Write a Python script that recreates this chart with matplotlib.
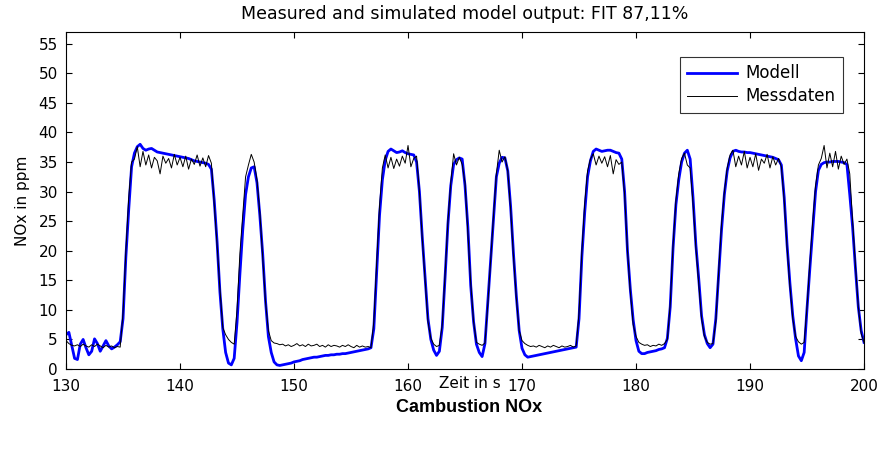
import numpy as np
import matplotlib
matplotlib.use("Agg")
import matplotlib.pyplot as plt

plt.rcParams['font.family'] = ['DejaVu Sans']

# Zeitachse: 130 s bis 200 s, Abtastung 0,25 s
t_start = 130.0
t_step = 0.25

# Modell (simulierter Ausgang), 4 Werte pro Sekunde
modell = [
    5.8, 6.2, 4.0, 1.8,      # 130
    1.6, 4.2, 5.0, 3.6,      # 131
    2.4, 3.0, 5.1, 4.3,      # 132
    3.0, 3.9, 4.8, 3.9,      # 133
    3.4, 3.7, 4.1, 4.6,      # 134
    8.5, 19.0, 27.0, 34.2,   # 135
    36.5, 37.6, 38.0, 37.3,  # 136
    37.0, 37.2, 37.3, 37.0,  # 137
    36.7, 36.6, 36.5, 36.4,  # 138
    36.3, 36.2, 36.1, 36.0,  # 139
    35.9, 35.8, 35.7, 35.6,  # 140
    35.4, 35.2, 35.1, 35.0,  # 141
    34.9, 34.8, 34.6, 33.8,  # 142
    28.5, 21.5, 13.0, 6.8,   # 143
    2.8, 1.0, 0.7, 1.8,      # 144
    7.9, 16.0, 23.5, 29.5,   # 145
    32.5, 34.0, 34.2, 31.5,  # 146
    26.0, 19.5, 11.5, 5.5,   # 147
    2.8, 1.2, 0.7, 0.6,      # 148
    0.7, 0.8, 0.9, 1.0,      # 149
    1.2, 1.3, 1.4, 1.6,      # 150
    1.7, 1.8, 1.9, 2.0,      # 151
    2.0, 2.1, 2.2, 2.3,      # 152
    2.3, 2.4, 2.4, 2.5,      # 153
    2.5, 2.6, 2.6, 2.7,      # 154
    2.8, 2.9, 3.0, 3.1,      # 155
    3.2, 3.3, 3.4, 3.6,      # 156
    6.8, 16.5, 26.0, 32.0,   # 157
    35.3, 36.8, 37.2, 36.9,  # 158
    36.6, 36.7, 36.9, 36.6,  # 159
    36.4, 36.3, 36.2, 35.0,  # 160
    30.0, 22.3, 15.3, 8.5,   # 161
    5.0, 3.2, 2.3, 3.0,      # 162
    7.0, 15.5, 24.5, 31.0,   # 163
    34.6, 35.4, 35.7, 35.5,  # 164
    31.0, 24.0, 14.1, 8.0,   # 165
    4.2, 2.8, 2.1, 4.3,      # 166
    11.3, 18.5, 25.5, 32.5,  # 167
    34.8, 35.8, 35.7, 33.5,  # 168
    27.5, 19.5, 12.4, 6.5,   # 169
    3.5, 2.4, 2.0, 2.1,      # 170
    2.2, 2.3, 2.4, 2.5,      # 171
    2.6, 2.7, 2.8, 2.9,      # 172
    3.0, 3.1, 3.2, 3.3,      # 173
    3.4, 3.5, 3.6, 3.7,      # 174
    8.5, 19.0, 26.5, 32.5,   # 175
    35.2, 36.8, 37.2, 37.0,  # 176
    36.8, 36.9, 37.0, 37.0,  # 177
    36.8, 36.6, 36.5, 35.5,  # 178
    30.0, 20.0, 13.5, 8.3,   # 179
    4.8, 3.0, 2.6, 2.6,      # 180
    2.8, 2.9, 3.0, 3.1,      # 181
    3.3, 3.4, 3.6, 5.2,      # 182
    10.5, 20.5, 27.8, 32.0,  # 183
    35.0, 36.5, 37.0, 35.5,  # 184
    29.0, 21.0, 15.3, 9.0,   # 185
    5.8, 4.3, 3.6, 4.2,      # 186
    8.5, 16.0, 23.5, 29.5,   # 187
    33.5, 35.7, 36.8, 37.0,  # 188
    36.8, 36.7, 36.7, 36.6,  # 189
    36.6, 36.5, 36.4, 36.3,  # 190
    36.2, 36.1, 36.0, 35.9,  # 191
    35.8, 35.6, 35.4, 34.5,  # 192
    29.0, 21.0, 14.5, 9.0,   # 193
    5.1, 2.2, 1.4, 2.8,      # 194
    10.2, 17.0, 23.5, 30.0,  # 195
    33.6, 34.6, 34.9, 35.0,  # 196
    35.0, 35.1, 35.1, 35.1,  # 197
    35.0, 34.9, 34.6, 29.5,  # 198
    24.0, 17.0, 10.5, 6.5,   # 199
    4.5,                     # 200
]

# Messdaten, gleiche Abtastung
messdaten = [
    4.8, 4.3, 4.0, 3.9,      # 130
    4.1, 3.8, 4.2, 3.9,      # 131
    3.7, 4.1, 3.8, 4.2,      # 132
    3.9, 3.6, 4.0, 3.7,      # 133
    3.9, 3.6, 3.8, 3.7,      # 134
    9.5, 20.0, 29.0, 35.0,   # 135
    35.5, 37.6, 34.2, 36.8,  # 136
    34.5, 36.2, 34.0, 35.8,  # 137
    35.2, 33.0, 36.0, 34.8,  # 138
    35.6, 34.0, 36.3, 34.5,  # 139
    35.8, 34.2, 36.0, 33.8,  # 140
    35.5, 34.6, 36.2, 34.3,  # 141
    35.7, 34.2, 36.1, 34.8,  # 142
    28.0, 21.0, 13.5, 7.0,   # 143
    5.8, 5.0, 4.5, 4.2,      # 144
    10.0, 19.5, 26.0, 32.5,  # 145
    34.5, 36.3, 35.0, 32.0,  # 146
    26.5, 19.0, 11.3, 6.5,   # 147
    4.8, 4.4, 4.3, 4.1,      # 148
    4.2, 3.9, 4.1, 3.8,      # 149
    4.0, 4.3, 3.9, 4.1,      # 150
    3.8, 4.2, 3.9, 4.0,      # 151
    4.2, 3.8, 4.0, 3.7,      # 152
    4.1, 3.8, 4.0, 3.9,      # 153
    3.7, 4.0, 3.8, 4.1,      # 154
    3.8, 3.6, 4.0, 3.7,      # 155
    3.9, 3.7, 3.8, 3.6,      # 156
    8.0, 18.0, 27.5, 34.0,   # 157
    36.2, 34.0, 35.8, 33.9,  # 158
    35.5, 34.3, 36.0, 34.8,  # 159
    37.8, 34.2, 35.6, 36.0,  # 160
    30.0, 22.0, 15.0, 8.0,   # 161
    5.2, 4.2, 3.8, 4.0,      # 162
    7.5, 16.0, 25.0, 31.5,   # 163
    36.4, 34.5, 35.8, 34.6,  # 164
    31.5, 23.0, 14.5, 8.0,   # 165
    4.5, 4.2, 4.0, 4.4,      # 166
    11.0, 18.5, 26.0, 33.0,  # 167
    37.0, 35.0, 35.9, 33.5,  # 168
    27.0, 19.0, 12.0, 6.5,   # 169
    4.8, 4.3, 4.0, 3.8,      # 170
    3.9, 3.7, 4.0, 3.8,      # 171
    3.6, 3.9, 3.7, 4.0,      # 172
    3.8, 3.6, 3.9, 3.7,      # 173
    3.8, 4.0, 3.7, 3.9,      # 174
    9.5, 20.0, 28.0, 33.5,   # 175
    35.5, 36.4, 34.5, 36.0,  # 176
    34.8, 35.9, 34.2, 36.1,  # 177
    33.0, 35.4, 34.6, 35.0,  # 178
    29.5, 20.0, 13.0, 7.5,   # 179
    5.5, 4.5, 4.2, 4.0,      # 180
    4.1, 3.8, 4.0, 3.9,      # 181
    4.2, 4.0, 4.3, 5.0,      # 182
    11.0, 21.0, 28.5, 33.0,  # 183
    35.6, 36.5, 34.5, 34.0,  # 184
    28.0, 20.5, 14.5, 8.5,   # 185
    5.5, 4.5, 4.2, 4.3,      # 186
    8.0, 16.5, 24.5, 30.0,   # 187
    34.0, 36.2, 37.0, 34.2,  # 188
    36.0, 34.5, 36.8, 34.0,  # 189
    35.8, 34.2, 36.4, 33.6,  # 190
    35.5, 34.8, 36.3, 34.0,  # 191
    35.9, 34.5, 35.6, 34.2,  # 192
    28.5, 20.5, 14.0, 8.5,   # 193
    5.5, 4.6, 4.2, 4.5,      # 194
    10.5, 18.0, 25.0, 31.0,  # 195
    34.5, 35.6, 37.8, 34.0,  # 196
    36.5, 34.2, 36.8, 33.8,  # 197
    36.0, 34.6, 35.5, 33.0,  # 198
    25.0, 17.5, 10.5, 6.0,   # 199
    4.5,                     # 200
]

zeit = t_start + t_step * np.arange(len(modell))

fig = plt.figure(figsize=(8.96, 4.5), dpi=100)
ax = fig.add_axes([0.0737, 0.18, 0.8906, 0.749])

ax.plot(zeit, modell, color=(0, 0, 1), lw=2.0, label="Modell", zorder=2)
ax.plot(zeit, messdaten, color="black", lw=0.7, label="Messdaten", zorder=3)

ax.set_xlim(130, 200)
ax.set_ylim(0, 57)
ax.set_xticks(np.arange(130, 201, 10))
ax.set_yticks(np.arange(0, 56, 5))
ax.tick_params(direction="in", top=True, right=True, labelsize=11, length=4)
ax.tick_params(axis="x", pad=7)
ax.tick_params(axis="y", pad=6)
for s in ax.spines.values():
    s.set_linewidth(0.8)

ax.set_title("Measured and simulated model output: FIT 87,11%", fontsize=12.5, pad=9)
ax.set_ylabel("NOx in ppm", fontsize=11, labelpad=6)
fig.text(0.524, 1 - 383 / 450, "Zeit in s", ha="center", va="center", fontsize=11)
fig.text(0.524, 1 - 408 / 450, "Cambustion NOx", ha="center", va="center",
         fontsize=13, fontweight="bold", family="Liberation Sans")

leg = ax.legend(loc="upper right", bbox_to_anchor=(0.974, 0.926), fontsize=12,
                frameon=True, fancybox=False, edgecolor="black", borderaxespad=0,
                handlelength=3.0, handletextpad=0.5, borderpad=0.45, labelspacing=0.3)
leg.get_frame().set_linewidth(0.8)

fig.savefig("out.png", dpi=100)
